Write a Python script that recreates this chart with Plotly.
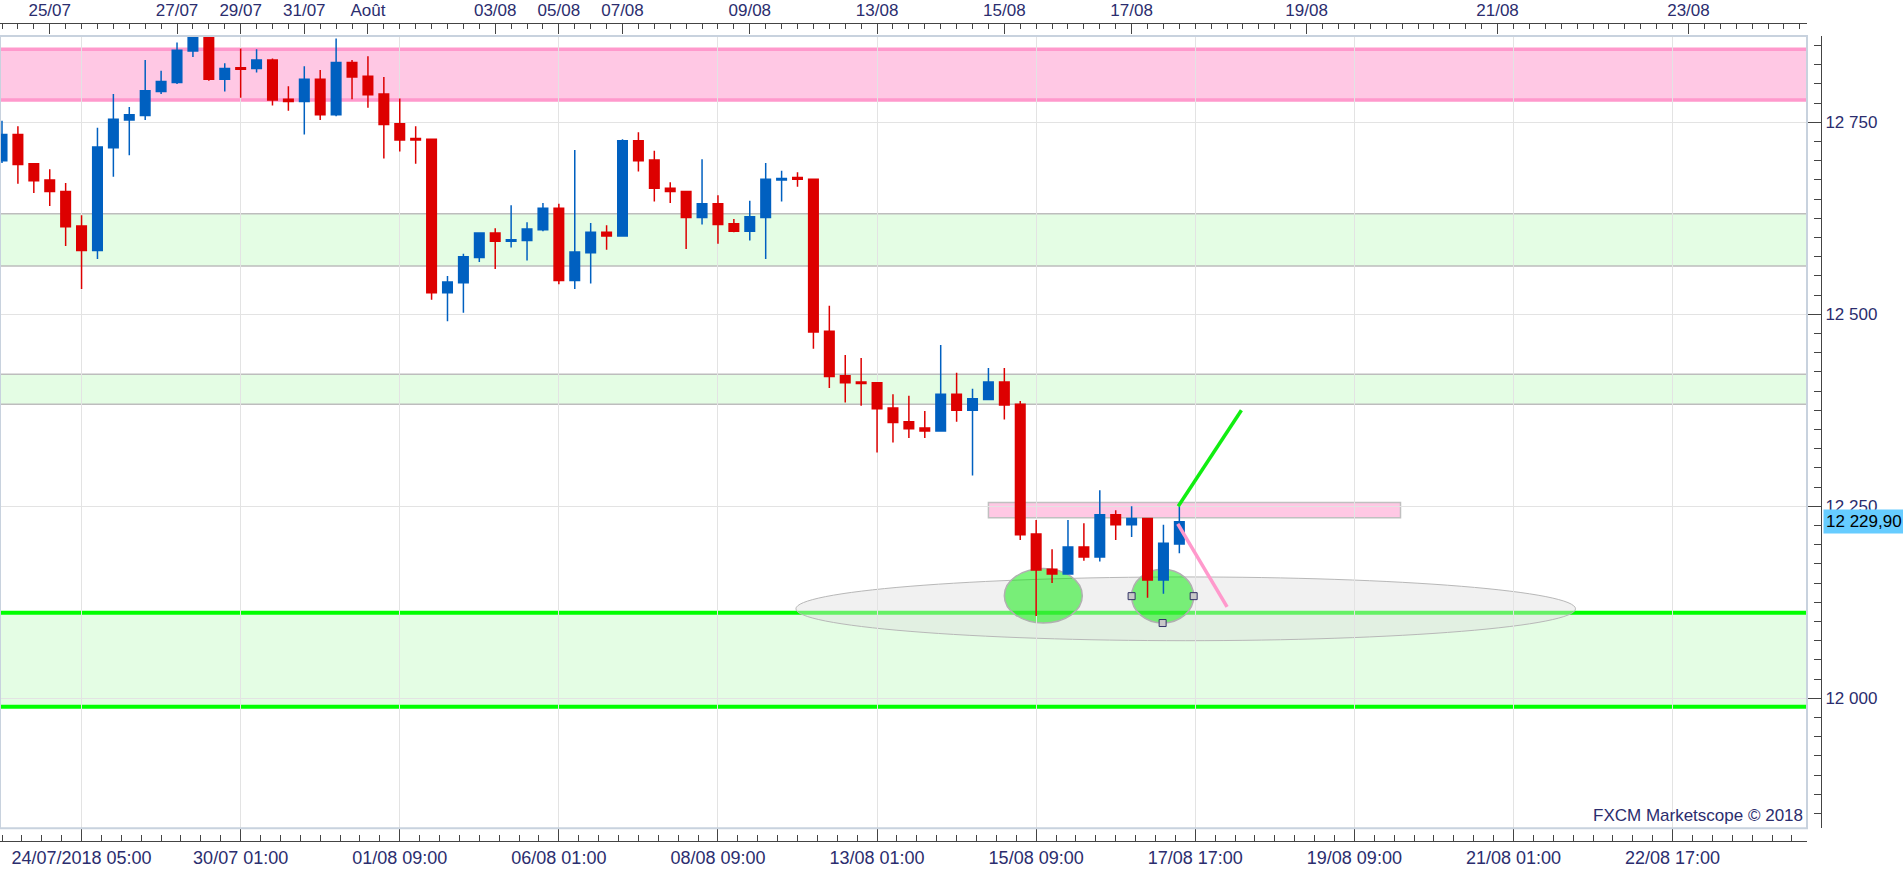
import plotly.graph_objects as go

# ---------------- data (4h candles, index-based x axis) ----------------
opens = [12700, 12734, 12696, 12675, 12660, 12615, 12583, 12717, 12753, 12759,
         12790, 12802, 12843, 12868, 12806, 12821, 12820, 12831, 12780, 12777,
         12806, 12760, 12828, 12810, 12787, 12748, 12729, 12728, 12528, 12541,
         12574, 12606, 12595, 12596, 12610, 12638, 12544, 12580, 12607, 12602,
         12726, 12701, 12664, 12660, 12626, 12644, 12618, 12608, 12626, 12675,
         12678, 12676, 12478, 12420, 12412, 12411, 12378, 12360, 12352, 12348,
         12396, 12375, 12389, 12412, 12383, 12214, 12168, 12162, 12197, 12184,
         12239, 12226, 12234, 12154, 12201]
highs = [12752, 12745, 12697, 12689, 12671, 12629, 12743, 12787, 12770, 12831,
         12817, 12854, 12880, 12880, 12827, 12846, 12845, 12833, 12797, 12823,
         12818, 12859, 12831, 12836, 12809, 12781, 12745, 12729, 12550, 12579,
         12607, 12612, 12642, 12620, 12645, 12644, 12714, 12619, 12616, 12728,
         12737, 12713, 12672, 12661, 12702, 12655, 12624, 12648, 12697, 12687,
         12685, 12677, 12511, 12447, 12443, 12412, 12396, 12394, 12374, 12460,
         12424, 12403, 12430, 12430, 12387, 12232, 12194, 12232, 12228, 12271,
         12245, 12250, 12235, 12226, 12250]
lows = [12697, 12670, 12658, 12641, 12589, 12533, 12572, 12679, 12707, 12753,
        12787, 12800, 12835, 12804, 12790, 12782, 12815, 12772, 12765, 12734,
        12753, 12758, 12780, 12769, 12703, 12712, 12696, 12519, 12491, 12502,
        12568, 12559, 12587, 12570, 12608, 12539, 12533, 12540, 12584, 12601,
        12686, 12647, 12645, 12585, 12617, 12592, 12607, 12596, 12572, 12647,
        12666, 12455, 12404, 12385, 12381, 12320, 12333, 12339, 12339, 12347,
        12360, 12290, 12388, 12363, 12206, 12107, 12150, 12161, 12179, 12178,
        12206, 12210, 12131, 12136, 12189]
closes = [12734, 12695, 12674, 12660, 12614, 12583, 12718, 12754, 12760, 12791,
          12803, 12844, 12868, 12806, 12820, 12819, 12831, 12779, 12777, 12806,
          12760, 12828, 12809, 12786, 12747, 12727, 12727, 12528, 12542, 12575,
          12606, 12595, 12597, 12611, 12638, 12544, 12581, 12607, 12602, 12726,
          12700, 12664, 12660, 12626, 12644, 12617, 12608, 12627, 12676, 12677,
          12676, 12477, 12419, 12411, 12410, 12377, 12359, 12351, 12348, 12396,
          12375, 12390, 12412, 12382, 12213, 12167, 12162, 12197, 12184, 12239,
          12226, 12234, 12154, 12202, 12229.90]
candle_idx = list(range(len(opens)))

bottom_tick_idx = [5, 15, 25, 35, 45, 55, 65, 75, 85, 95, 105]
bottom_tick_text = ["24/07/2018 05:00", "30/07 01:00", "01/08 09:00", "06/08 01:00",
                    "08/08 09:00", "13/08 01:00", "15/08 09:00", "17/08 17:00",
                    "19/08 09:00", "21/08 01:00", "22/08 17:00"]
top_tick_idx = [3, 11, 15, 19, 23, 31, 35, 39, 47, 55, 63, 71, 82, 94, 106]
top_tick_text = ["25/07", "27/07", "29/07", "31/07", "Août", "03/08", "05/08", "07/08",
                 "09/08", "13/08", "15/08", "17/08", "19/08", "21/08", "23/08"]

# drawn zones / objects (index, price)
resistance_zone = (12779, 12845)
support_zones = [(12563, 12631), (12383, 12422)]
strong_support_zone = (11989, 12111.5)
pink_box = ((62.0, 87.9), (12235, 12255))
ellipse = ((49.9, 98.9), (12075, 12158))
circles = [((63.0, 67.9), (12098, 12169)), ((71.0, 74.9), (12098, 12168))]
up_line = ((73.93, 77.9), (12250, 12375))
down_line = ((73.9, 77.0), (12227, 12119))

x_range = [-0.126, 113.45]
y_range = [11830.7, 12862.4]

# ---------------- styling ----------------
TXT = "#2b2d6e"
FONT = "Liberation Sans"
BLUE = "#0060c0"
RED = "#dd0000"
W, H = 1903, 874

fig = go.Figure()
fig.add_trace(go.Candlestick(
    x=candle_idx, open=opens, high=highs, low=lows, close=closes,
    increasing=dict(line=dict(color=BLUE, width=1.5), fillcolor=BLUE),
    decreasing=dict(line=dict(color=RED, width=1.5), fillcolor=RED),
    whiskerwidth=0, hoverinfo="skip", showlegend=False,
))

# drawing handles on the selected circle
(cx0, cx1), (cy0, cy1) = circles[1]
fig.add_trace(go.Scatter(
    x=[cx0, cx1, (cx0 + cx1) / 2], y=[(cy0 + cy1) / 2, (cy0 + cy1) / 2, cy0],
    mode="markers", marker=dict(symbol="square", size=7, color="#c8c8c8",
                                line=dict(color="#333366", width=1)),
    hoverinfo="skip", showlegend=False,
))

# orange date markers on top axis
fig.add_trace(go.Scatter(
    x=top_tick_idx, y=[y_range[1] + 9.7] * len(top_tick_idx), xaxis="x2", yaxis="y",
    mode="markers", marker=dict(symbol="triangle-down", size=11, color="#f7a21b"),
    cliponaxis=False, hoverinfo="skip", showlegend=False,
))

x_lo, x_hi = x_range
shapes = []
def band(lo, hi, fill, lcolor, lw):
    shapes.append(dict(type="rect", xref="x", x0=x_lo, x1=x_hi, yref="y", y0=lo, y1=hi,
                       fillcolor=fill, line=dict(width=0), layer="below"))
    for v in (lo, hi):
        shapes.append(dict(type="line", xref="x", x0=x_lo, x1=x_hi, yref="y", y0=v, y1=v,
                           line=dict(color=lcolor, width=lw), layer="below"))

band(*resistance_zone, "#ffc8e4", "#ff99cc", 3.5)
for z in support_zones:
    band(*z, "#e4fde4", "#bdbdbd", 1.5)
band(*strong_support_zone, "#e4fde4", "#00ff00", 4)

(ex0, ex1), (ey0, ey1) = ellipse
shapes.append(dict(type="circle", xref="x", yref="y", x0=ex0, x1=ex1, y0=ey0, y1=ey1,
                   fillcolor="rgba(225,225,225,0.45)", line=dict(color="#b8b8b8", width=1),
                   layer="below"))
for (a0, a1), (b0, b1) in circles:
    shapes.append(dict(type="circle", xref="x", yref="y", x0=a0, x1=a1, y0=b0, y1=b1,
                       fillcolor="rgba(0,235,0,0.5)", line=dict(color="#b0b0b0", width=1.5),
                       layer="below"))
(px0, px1), (py0, py1) = pink_box
shapes.append(dict(type="rect", xref="x", yref="y", x0=px0, x1=px1, y0=py0, y1=py1,
                   fillcolor="#ffc8e4", line=dict(color="#c0c0c0", width=1.5), layer="below"))
for (lx, ly), col in ((up_line, "#11ee11"), (down_line, "#ff99cc")):
    shapes.append(dict(type="line", xref="x", yref="y", x0=lx[0], x1=lx[1], y0=ly[0], y1=ly[1],
                       line=dict(color=col, width=3.5), layer="above"))
# plot border
shapes.append(dict(type="rect", xref="paper", yref="paper", x0=0, x1=1807 / 1821,
                   y0=(841 - 828.3) / 818, y1=(841 - 36) / 818,
                   line=dict(color="#c8d2de", width=2), fillcolor="rgba(0,0,0,0)", layer="above"))

last = closes[-1]
price_txt = f"{last:,.2f}".replace(",", " ").replace(".", ",")

annotations = [
    dict(text="FXCM Marketscope © 2018", xref="paper", yref="paper", x=1807 / 1821,
         y=(841 - 828.3) / 818,
         xanchor="right", yanchor="bottom", showarrow=False, xshift=-2, yshift=1,
         font=dict(size=17, color=TXT, family=FONT)),
    dict(text=price_txt, xref="paper", yref="y", x=1, y=last, xanchor="left", yanchor="middle",
         showarrow=False, xshift=2, bgcolor="#66ccff", borderpad=2,
         font=dict(size=17, color="#000000", family=FONT)),
]

plot_l, plot_r, plot_t, plot_b = 0, 1807, 36, 828.3
axis_r, axis_t, axis_b = 1821, 23, 841
paper_h = axis_b - axis_t

fig.update_layout(
    width=W, height=H,
    margin=dict(l=0, r=W - axis_r, t=axis_t, b=H - axis_b, pad=0),
    paper_bgcolor="white", plot_bgcolor="white",
    separators=", ", showlegend=False, hovermode=False,
    font=dict(family=FONT, color=TXT),
    boxgap=0.4, boxgroupgap=0,
    shapes=shapes, annotations=annotations,
    xaxis=dict(
        range=x_range, domain=[0, plot_r / axis_r], anchor="free", position=0,
        showgrid=True, gridcolor="#e3e3e3", gridwidth=1, zeroline=False,
        tickmode="array", tickvals=bottom_tick_idx, ticktext=bottom_tick_text,
        ticks="inside", ticklen=13, tickcolor="#444444", tickwidth=1,
        showline=True, linecolor="#444444", linewidth=1,
        tickfont=dict(size=18, color=TXT, family=FONT),
        rangeslider=dict(visible=False), fixedrange=True,
        minor=dict(tickmode="linear", tick0=5, dtick=1.25, ticks="inside", ticklen=6,
                   tickcolor="#444444", showgrid=False),
    ),
    xaxis2=dict(
        overlaying="x", matches="x", side="top", anchor="free", position=1,
        showgrid=False, zeroline=False,
        tickmode="array", tickvals=top_tick_idx, ticktext=top_tick_text,
        ticks="inside", ticklen=10, tickcolor="#444444", tickwidth=1,
        showline=True, linecolor="#444444", linewidth=1,
        tickfont=dict(size=17, color=TXT, family=FONT),
        minor=dict(tickmode="linear", tick0=0, dtick=1, ticks="inside", ticklen=5,
                   tickcolor="#444444", showgrid=False),
    ),
    yaxis=dict(
        range=y_range,
        domain=[(axis_b - plot_b) / paper_h, (axis_b - plot_t) / paper_h],
        side="right", anchor="free", position=1,
        showgrid=True, gridcolor="#e3e3e3", gridwidth=1, zeroline=False,
        tickmode="linear", tick0=12000, dtick=250, tickformat=",d",
        ticks="inside", ticklen=14, tickcolor="#444444",
        showline=True, linecolor="#444444", linewidth=1,
        tickfont=dict(size=17, color=TXT, family=FONT),
        minor=dict(dtick=25, ticks="inside", ticklen=7, tickcolor="#444444", showgrid=False),
        fixedrange=True,
    ),
)

fig.write_html("out.html", post_script="document.body.style.margin='0';",
               config={"displayModeBar": False})
